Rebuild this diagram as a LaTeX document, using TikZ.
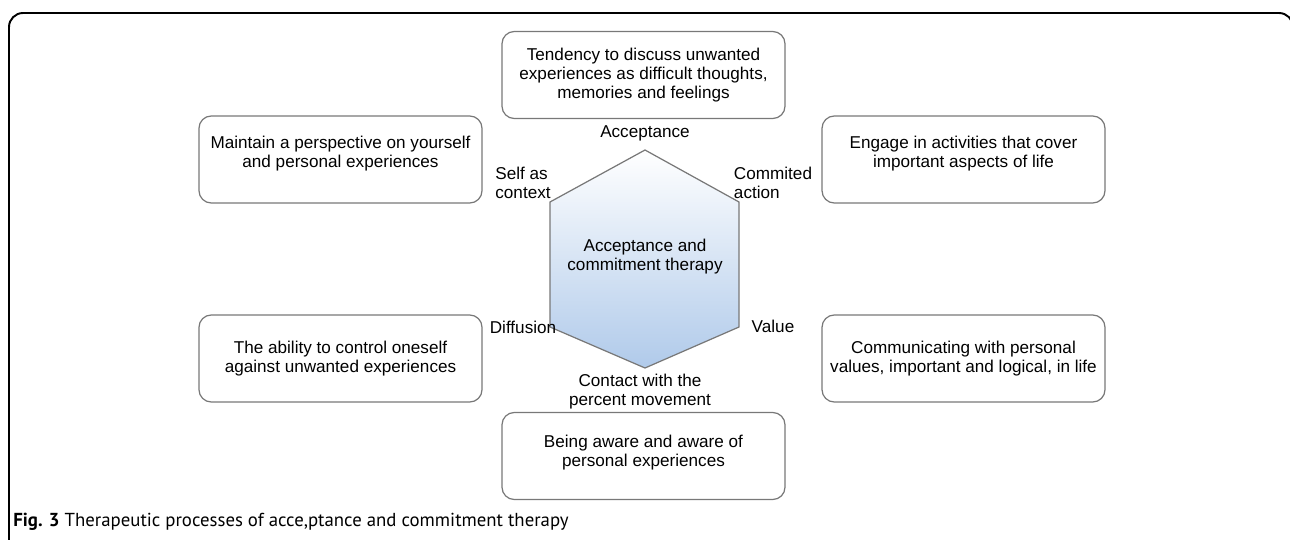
\documentclass[tikz,border=0pt]{standalone}
\usepackage{fontspec}
\setmainfont{Liberation Sans}
\newfontfamily\capfont{PT Sans}
\definecolor{hexblue}{RGB}{176,202,234}
\definecolor{boxgray}{RGB}{120,120,120}
\begin{document}
\begin{tikzpicture}[x=0.02cm,y=-0.02cm,
        procbox/.style={draw=boxgray,line width=0.7pt,rounded corners=7pt,minimum width=283*0.02cm,minimum height=87*0.02cm,align=center,font=\fontsize{9.75}{10.6}\selectfont},
        tag/.style={font=\fontsize{9.75}{10.8}\selectfont,inner sep=0pt}]
        \useasboundingbox (0,0) rectangle (1290,540);
        \draw[line width=1.1pt,rounded corners=8pt] (9,600) -- (9,13) -- (1293,13) -- (1293,600);
        \shade[top color=white,middle color=white!80!hexblue,bottom color=hexblue,draw=boxgray,line width=0.7pt]
            (645,150) -- (739,202) -- (739,327) -- (645,368) -- (550,327) -- (550,202) -- cycle;
        \node[tag,align=center] (act) at (645,257) {Acceptance and\\commitment therapy};
        \node[procbox] (accbox) at (643.5,75) {Tendency to discuss unwanted\\experiences as difficult thoughts,\\memories and feelings};
        \node[procbox,text depth=9pt] (selfbox) at (340.5,159.5) {Maintain a perspective on yourself\\and personal experiences};
        \node[procbox,text depth=9pt] (actbox) at (963.5,159.5) {Engage in activities that cover\\important aspects of life};
        \node[procbox] (difbox) at (340.5,358.5) {The ability to control oneself\\against unwanted experiences};
        \node[procbox] (valbox) at (963.5,358.5) {Communicating with personal\\values, important and logical, in life};
        \node[procbox,text depth=6pt] (conbox) at (643.5,456) {Being aware and aware of\\personal experiences};
        \node[tag] (acc) at (645,133) {Acceptance};
        \node[tag,align=left] (self) at (523,183) {Self as\\context};
        \node[tag,align=left] (comm) at (773,183) {Commited\\action};
        \node[tag] (dif) at (523,327) {Diffusion};
        \node[tag] (val) at (773,326) {Value};
        \node[tag,align=center] (con) at (640,392) {Contact with the\\percent movement};
        \node[anchor=west,inner sep=0pt,font=\capfont\fontsize{10.7}{13}\selectfont] (cap) at (13,522) {\textbf{Fig. 3} Therapeutic processes of acce,ptance and commitment therapy};
\end{tikzpicture}
\end{document}
